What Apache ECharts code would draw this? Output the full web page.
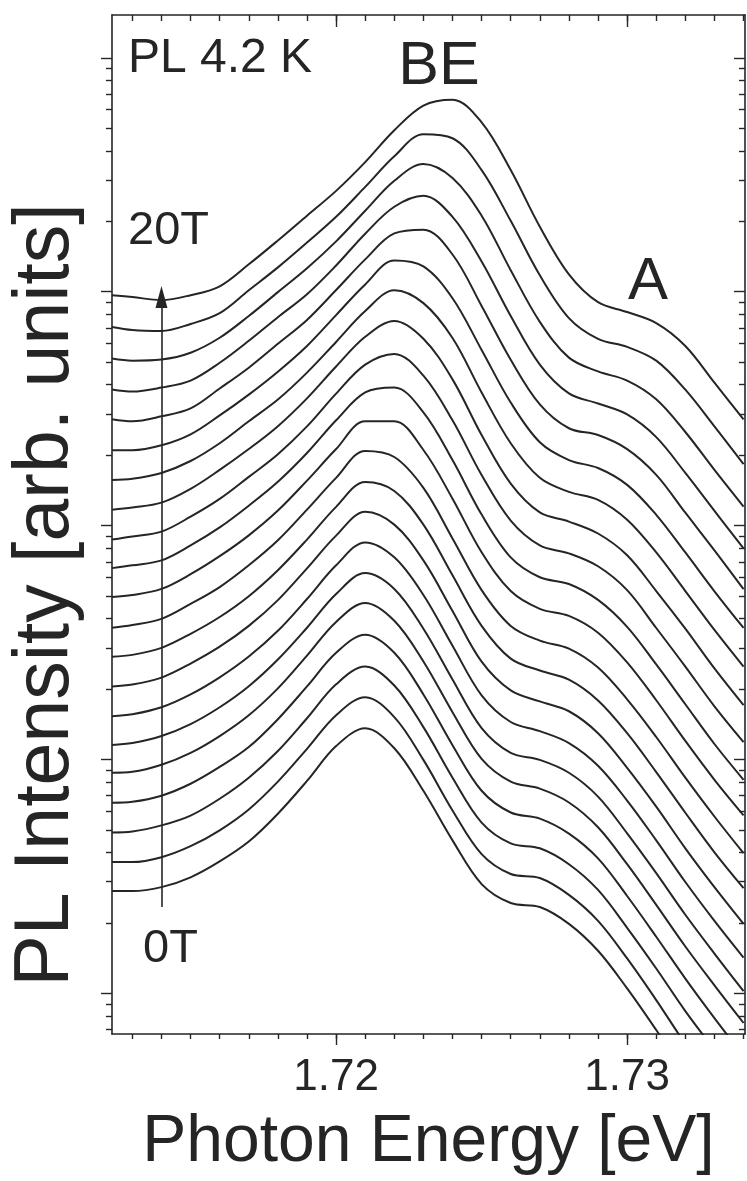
<!DOCTYPE html>
<html>
<head>
<meta charset="utf-8">
<script src="https://cdn.jsdelivr.net/npm/echarts@6/dist/echarts.min.js"></script>
<style>
html,body{margin:0;padding:0;background:#ffffff;}
#chart{width:747px;height:1181px;}
</style>
</head>
<body>
<div id="chart"></div>
<script>
// Photon energy sample points (eV)
const energies = [1.7123,1.713,1.714,1.715,1.716,1.717,1.718,1.719,1.720,1.721,1.722,1.723,1.724,1.725,1.726,1.727,1.728,1.729,1.730,1.731,1.732,1.733,1.734];

// Magnetic field of each spectrum (T)
const fields = [0,1,2,3,4,5,6,7,8,9,10,11,12,13,14,15,16,17,18,19,20];

// Vertical waterfall offsets (decades of log intensity)
const offsets = [0.437,0.561,0.688,0.815,0.943,1.062,1.185,1.312,1.439,1.567,1.699,1.826,1.953,2.081,2.208,2.335,2.463,2.590,2.718,2.849,2.985];

// Spectra: log10 PL intensity relative to the low-energy baseline (decades)
const spec0T  = [0,0,0.017,0.059,0.127,0.212,0.331,0.471,0.620,0.696,0.611,0.429,0.217,0.030,-0.051,-0.068,-0.140,-0.255,-0.416,-0.594,-0.781,-0.951,-1.112];
const spec1T  = [0,0,0.021,0.068,0.136,0.225,0.344,0.484,0.628,0.705,0.620,0.437,0.221,0.034,-0.051,-0.068,-0.140,-0.251,-0.412,-0.590,-0.777,-0.943,-1.104];
const spec2T  = [0,0.004,0.030,0.072,0.144,0.234,0.348,0.488,0.633,0.709,0.628,0.450,0.234,0.042,-0.047,-0.068,-0.136,-0.246,-0.408,-0.582,-0.764,-0.930,-1.095];
const spec3T  = [0,0.004,0.030,0.081,0.153,0.238,0.357,0.497,0.641,0.718,0.641,0.463,0.246,0.051,-0.042,-0.068,-0.132,-0.238,-0.399,-0.573,-0.752,-0.921,-1.083];
const spec4T  = [0,0.004,0.034,0.085,0.157,0.246,0.361,0.501,0.645,0.726,0.650,0.476,0.259,0.059,-0.038,-0.068,-0.127,-0.233,-0.391,-0.565,-0.743,-0.909,-1.070];
const spec5T  = [0,0.008,0.038,0.089,0.161,0.251,0.365,0.501,0.645,0.735,0.667,0.497,0.280,0.072,-0.034,-0.064,-0.119,-0.221,-0.378,-0.548,-0.726,-0.892,-1.053];
const spec6T  = [0,0.008,0.038,0.093,0.166,0.255,0.365,0.501,0.645,0.743,0.679,0.518,0.301,0.089,-0.025,-0.064,-0.115,-0.212,-0.361,-0.531,-0.709,-0.875,-1.032];
const spec7T  = [0,0.008,0.038,0.098,0.170,0.259,0.369,0.505,0.645,0.747,0.692,0.539,0.323,0.106,-0.017,-0.064,-0.106,-0.200,-0.348,-0.514,-0.692,-0.858,-1.015];
const spec8T  = [0,0.008,0.038,0.098,0.170,0.259,0.370,0.501,0.641,0.747,0.709,0.565,0.348,0.132,-0.008,-0.059,-0.098,-0.187,-0.327,-0.493,-0.667,-0.836,-0.989];
const spec9T  = [-0.004,0.008,0.034,0.098,0.170,0.263,0.370,0.501,0.637,0.752,0.726,0.594,0.378,0.157,0.004,-0.059,-0.093,-0.174,-0.310,-0.471,-0.645,-0.811,-0.968];
const spec10T = [-0.004,0.004,0.030,0.093,0.170,0.259,0.365,0.493,0.628,0.747,0.747,0.624,0.416,0.187,0.021,-0.055,-0.085,-0.157,-0.284,-0.446,-0.620,-0.786,-0.938];
const spec11T = [-0.008,0.004,0.025,0.089,0.166,0.259,0.361,0.484,0.624,0.743,0.764,0.658,0.454,0.221,0.038,-0.047,-0.076,-0.144,-0.259,-0.420,-0.590,-0.760,-0.913];
const spec12T = [-0.013,0,0.021,0.085,0.161,0.255,0.352,0.471,0.611,0.735,0.781,0.688,0.497,0.263,0.068,-0.038,-0.072,-0.127,-0.229,-0.391,-0.556,-0.726,-0.879];
const spec13T = [-0.013,-0.004,0.017,0.076,0.157,0.246,0.344,0.463,0.599,0.726,0.794,0.718,0.544,0.306,0.098,-0.025,-0.064,-0.115,-0.208,-0.361,-0.522,-0.692,-0.849];
const spec14T = [-0.013,-0.008,0.017,0.068,0.144,0.238,0.331,0.446,0.577,0.709,0.798,0.743,0.594,0.361,0.144,-0.004,-0.064,-0.098,-0.183,-0.323,-0.488,-0.654,-0.811];
const spec15T = [-0.013,-0.013,0.008,0.055,0.136,0.225,0.323,0.433,0.565,0.696,0.798,0.773,0.637,0.416,0.191,0.021,-0.055,-0.089,-0.161,-0.289,-0.450,-0.616,-0.773];
const spec16T = [-0.008,-0.017,0.004,0.038,0.123,0.212,0.314,0.416,0.544,0.675,0.786,0.802,0.696,0.476,0.246,0.055,-0.047,-0.076,-0.136,-0.246,-0.408,-0.569,-0.735];
const spec17T = [-0.008,-0.017,0,0.030,0.106,0.200,0.301,0.399,0.522,0.658,0.773,0.820,0.730,0.539,0.306,0.098,-0.025,-0.068,-0.115,-0.212,-0.365,-0.527,-0.688];
const spec18T = [-0.004,-0.013,-0.008,0.021,0.085,0.178,0.280,0.382,0.497,0.628,0.756,0.828,0.768,0.607,0.374,0.153,0,-0.059,-0.098,-0.178,-0.318,-0.480,-0.637];
const spec19T = [0,-0.013,-0.017,0.013,0.059,0.157,0.255,0.361,0.471,0.599,0.730,0.824,0.807,0.671,0.454,0.221,0.038,-0.051,-0.085,-0.144,-0.268,-0.425,-0.586];
const spec20T = [0,-0.008,-0.021,0,0.038,0.132,0.234,0.340,0.446,0.569,0.705,0.811,0.836,0.739,0.535,0.293,0.089,-0.030,-0.072,-0.119,-0.217,-0.374,-0.531];

// Axis ranges and ticks
const xRange = [1.7123, 1.73405];
const yRange = [-0.174, 4.183];           // log10 intensity
const xMinorTicks = [1.713,1.714,1.715,1.716,1.717,1.718,1.719,1.720,1.721,1.722,1.723,1.724,1.725,1.726,1.727,1.728,1.729,1.730,1.731,1.732,1.733,1.734];
const xMajorTicks = [1.72, 1.73];
const xTickLabels = ['1.72', '1.73'];
const yDecades = [-1,0,1,2,3,4];
const yMultipliers = [2,3,4,5,6,7,8,9];
const yMajorTicks = [0,1,2,3,4];

// Arrow (field direction) endpoints
const arrowEnergy = 1.714;
const arrowFrom = 0.369, arrowTo = 2.977;

const spectra = [spec0T,spec1T,spec2T,spec3T,spec4T,spec5T,spec6T,spec7T,spec8T,spec9T,spec10T,
                 spec11T,spec12T,spec13T,spec14T,spec15T,spec16T,spec17T,spec18T,spec19T,spec20T];

const yMinorTicks = [];
yDecades.forEach(d => yMultipliers.forEach(m => {
  const v = d + Math.log10(m);
  if (v > yRange[0] && v < yRange[1]) yMinorTicks.push(+v.toFixed(5));
}));

const INK = '#252525';
const FONT = '"Liberation Sans", Arial, Helvetica, sans-serif';
const axisLineStyle = {color: INK, width: 1.6};

function xAx(pos, ticks, len, inside, showLine, extra) {
  return Object.assign({
    type: 'value', gridIndex: 0, position: pos, min: xRange[0], max: xRange[1],
    axisLine: {show: showLine, onZero: false, lineStyle: axisLineStyle},
    axisTick: {show: true, customValues: ticks, length: len, inside: inside, lineStyle: {color: INK, width: 1.4}},
    axisLabel: {show: false},
    splitLine: {show: false}, minorTick: {show: false}
  }, extra || {});
}
function yAx(pos, ticks, len, inside, showLine) {
  return {
    type: 'value', gridIndex: 0, position: pos, min: yRange[0], max: yRange[1],
    axisLine: {show: showLine, onZero: false, lineStyle: axisLineStyle},
    axisTick: {show: true, customValues: ticks, length: len, inside: inside, lineStyle: {color: INK, width: 1.4}},
    axisLabel: {show: false},
    splitLine: {show: false}, minorTick: {show: false}
  };
}

const series = spectra.map((s, i) => ({
  name: fields[i] + 'T',
  type: 'line',
  xAxisIndex: 0, yAxisIndex: 0,
  data: energies.map((e, j) => [e, +(s[j] + offsets[i]).toFixed(4)]),
  showSymbol: false, symbol: 'none',
  smooth: 0.35,
  clip: true,
  silent: true,
  lineStyle: {color: INK, width: 2},
  z: 3
}));

series[0].markLine = {
  silent: true,
  animation: false,
  symbol: ['none', 'triangle'],
  symbolSize: [12, 22],
  label: {show: false},
  lineStyle: {color: INK, width: 1.6, type: 'solid'},
  data: [[{coord: [arrowEnergy, arrowFrom]}, {coord: [arrowEnergy, arrowTo]}]]
};

const option = {
  backgroundColor: '#ffffff',
  animation: false,
  grid: {left: 112, top: 15, right: 2, bottom: 140, containLabel: false},
  xAxis: [
    xAx('bottom', xMinorTicks, 5, false, true),
    xAx('bottom', xMajorTicks, 11, false, false, {
      axisLabel: {show: true, customValues: xMajorTicks, margin: 22,
        formatter: v => xTickLabels[xMajorTicks.findIndex(t => Math.abs(t - v) < 1e-6)] || '',
        color: INK, fontSize: 44, fontFamily: FONT},
      name: 'Photon Energy [eV]', nameLocation: 'middle', nameGap: 76,
      nameTextStyle: {color: INK, fontSize: 66, fontFamily: FONT}
    }),
    xAx('top', xMinorTicks, 6, true, true),
    xAx('top', xMajorTicks, 12, true, false)
  ],
  yAxis: [
    yAx('left', yMinorTicks, 6, false, true),
    yAx('left', yMajorTicks, 11, false, false),
    yAx('right', yMinorTicks, 6, true, true),
    yAx('right', yMajorTicks, 11, true, false)
  ],
  graphic: [
    {type: 'text', x: 128, y: 59, style: {text: 'PL 4.2 K', font: '48px ' + FONT, fill: INK, textAlign: 'left', textVerticalAlign: 'middle'}},
    {type: 'text', x: 439, y: 67, style: {text: 'BE', font: '61px ' + FONT, fill: INK, textAlign: 'center', textVerticalAlign: 'middle'}},
    {type: 'text', x: 648, y: 282, style: {text: 'A', font: '60px ' + FONT, fill: INK, textAlign: 'center', textVerticalAlign: 'middle'}},
    {type: 'text', x: 128, y: 231, style: {text: '20T', font: '47px ' + FONT, fill: INK, textAlign: 'left', textVerticalAlign: 'middle'}},
    {type: 'text', x: 143, y: 949, style: {text: '0T', font: '47px ' + FONT, fill: INK, textAlign: 'left', textVerticalAlign: 'middle'}},
    {type: 'text', x: 47, y: 595, rotation: Math.PI / 2, style: {text: 'PL Intensity [arb. units]', font: '77px ' + FONT, fill: INK, textAlign: 'center', textVerticalAlign: 'middle'}}
  ],
  series: series
};

const chart = echarts.init(document.getElementById('chart'), null, {renderer: 'canvas'});
chart.setOption(option);
</script>
</body>
</html>
